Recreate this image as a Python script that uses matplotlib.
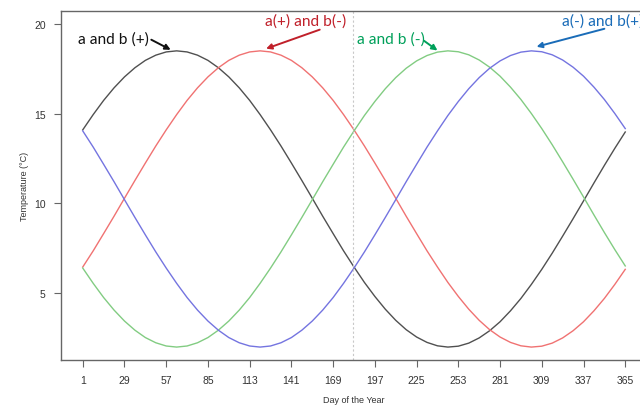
import matplotlib
matplotlib.use("Agg")
import matplotlib.pyplot as plt

# data (one value per week)
days = list(range(1, 366, 7))
black = [14.10, 14.95, 15.74, 16.44, 17.05, 17.56, 17.97, 18.26, 18.44, 18.50,
         18.44, 18.26, 17.97, 17.56, 17.05, 16.44, 15.74, 14.95, 14.10, 13.20,
         12.25, 11.28, 10.29, 9.29, 8.32, 7.36, 6.46, 5.60, 4.82, 4.11,
         3.49, 2.97, 2.56, 2.26, 2.07, 2.00, 2.05, 2.22, 2.51, 2.91,
         3.41, 4.02, 4.71, 5.49, 6.33, 7.23, 8.18, 9.15, 10.14, 11.14,
         12.12, 13.07, 13.98]
red = [6.46, 7.36, 8.32, 9.29, 10.29, 11.28, 12.25, 13.20, 14.10, 14.95,
       15.74, 16.44, 17.05, 17.56, 17.97, 18.26, 18.44, 18.50, 18.44, 18.26,
       17.97, 17.56, 17.05, 16.44, 15.74, 14.95, 14.10, 13.20, 12.25, 11.28,
       10.29, 9.29, 8.32, 7.36, 6.46, 5.60, 4.82, 4.11, 3.49, 2.97,
       2.56, 2.26, 2.07, 2.00, 2.05, 2.22, 2.51, 2.91, 3.41, 4.02,
       4.71, 5.49, 6.33]
green = [6.40, 5.55, 4.76, 4.06, 3.45, 2.94, 2.53, 2.24, 2.06, 2.00,
         2.06, 2.24, 2.53, 2.94, 3.45, 4.06, 4.76, 5.55, 6.40, 7.30,
         8.25, 9.22, 10.21, 11.21, 12.18, 13.14, 14.04, 14.90, 15.68, 16.39,
         17.01, 17.53, 17.94, 18.24, 18.43, 18.50, 18.45, 18.28, 17.99, 17.59,
         17.09, 16.48, 15.79, 15.01, 14.17, 13.27, 12.32, 11.35, 10.36, 9.36,
         8.38, 7.43, 6.52]
blue = [14.04, 13.14, 12.18, 11.21, 10.21, 9.22, 8.25, 7.30, 6.40, 5.55,
        4.76, 4.06, 3.45, 2.94, 2.53, 2.24, 2.06, 2.00, 2.06, 2.24,
        2.53, 2.94, 3.45, 4.06, 4.76, 5.55, 6.40, 7.30, 8.25, 9.22,
        10.21, 11.21, 12.18, 13.14, 14.04, 14.90, 15.68, 16.39, 17.01, 17.53,
        17.94, 18.24, 18.43, 18.50, 18.45, 18.28, 17.99, 17.59, 17.09, 16.48,
        15.79, 15.01, 14.17]

xticks = [1, 29, 57, 85, 113, 141, 169, 197, 225, 253, 281, 309, 337, 365]
yticks = [5, 10, 15, 20]
mid_day = 182.5

fig = plt.figure(figsize=(6.4, 4.06), dpi=100)
ax = fig.add_axes([61 / 640, 45 / 406, 586 / 640, 349 / 406])

ax.plot(days, black, color="#505050", lw=1)
ax.plot(days, red, color="#f07272", lw=1)
ax.plot(days, green, color="#82cc82", lw=1)
ax.plot(days, blue, color="#7474e0", lw=1)
ax.axvline(mid_day, color="#c8c8c8", lw=0.8, ls=(0, (2, 2)))

ax.set_xlim(-13.6, 379.6)
ax.set_ylim(1.28, 20.72)
ax.set_xticks(xticks)
ax.set_yticks(yticks)

for s in ax.spines.values():
    s.set_color("#666666")
    s.set_linewidth(1)
ax.tick_params(axis="both", colors="#666666", length=5, width=0.8,
               labelsize=7.5, labelcolor="#333333", pad=6)
for lab in ax.get_xticklabels() + ax.get_yticklabels():
    lab.set_family("Liberation Sans")
ax.set_xlabel("Day of the Year", fontsize=6.5, family="Liberation Sans",
              color="#333333", labelpad=7)
ax.set_ylabel("Temperature (°C)", fontsize=6.5, family="Liberation Sans",
              color="#333333", labelpad=4)

# annotations
txt = dict(fontsize=11.2, family="Lato", va="center", clip_on=False)
ax.text(-2.3, 19.17, "a and b (+)", color="#111111", ha="left", **txt)
ax.text(123, 20.18, "a(+) and b(-)", color="#c0202a", ha="left", **txt)
ax.text(185, 19.17, "a and b (-)", color="#00a05a", ha="left", **txt)
ax.text(322.5, 20.18, "a(-) and b(+)", color="#1a6cb8", ha="left", **txt)

def arrow(x0, y0, x1, y1, c):
    ax.annotate("", xy=(x1, y1), xytext=(x0, y0),
                arrowprops=dict(arrowstyle="-|>", color=c, lw=1.4,
                                mutation_scale=8, shrinkA=0, shrinkB=0),
                annotation_clip=False)

arrow(47, 19.12, 60, 18.56, "#111111")
arrow(160, 19.68, 124, 18.62, "#c0202a")
arrow(230, 19.06, 239, 18.52, "#00a05a")
arrow(351, 19.73, 305.5, 18.73, "#1a6cb8")

fig.savefig("out.png", dpi=100)
